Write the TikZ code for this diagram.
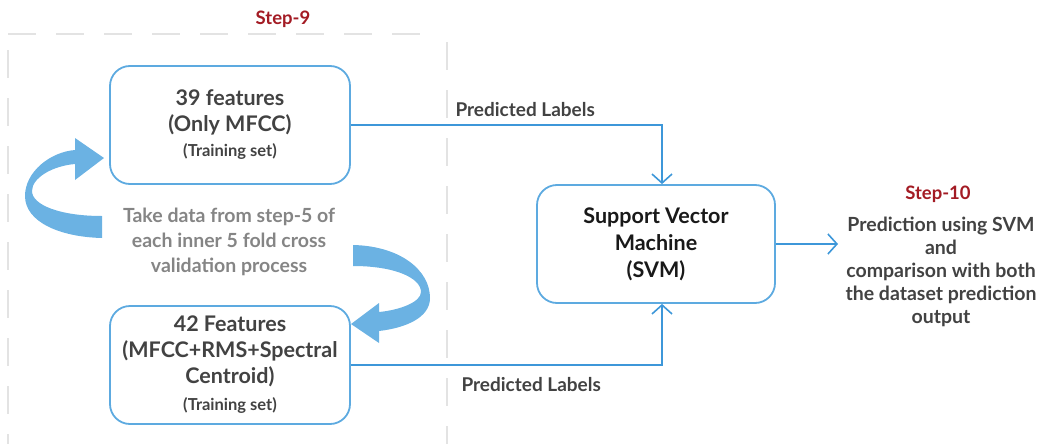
\documentclass[tikz,border=0pt]{standalone}
\usepackage{fontspec}
\setmainfont{Lato}
\usetikzlibrary{arrows.meta,calc}
\definecolor{boxline}{HTML}{5DAAE0}
\definecolor{connline}{HTML}{3D97D9}
\definecolor{swirl}{HTML}{6BB2E3}
\definecolor{steptitle}{HTML}{A31B24}
\definecolor{boxtext}{HTML}{424242}
\definecolor{notetext}{HTML}{858585}
\definecolor{frameline}{HTML}{E3E3E3}
\newcommand{\fsz}[2]{\fontsize{#1}{#2}\selectfont}
\tikzset{
  featbox/.style={draw=boxline, line width=1.8pt, rounded corners=20pt,
    minimum width=240pt, minimum height=118pt, align=center,
    text=boxtext, font=\bfseries\fsz{21.5}{26}, inner sep=0pt},
  svmbox/.style={featbox, minimum width=238pt, text=black!90, font=\bfseries\fsz{21.5}{27}},
  conn/.style={draw=connline, line width=1.6pt,
    -{Straight Barb[length=9pt,width=20pt,line width=1.6pt]}},
  framedash/.style={draw=frameline, line width=1.6pt, dash pattern=on 28pt off 20pt},
  steplabel/.style={text=steptitle, font=\bfseries\fsz{18.5}{22}},
  edgetext/.style={text=boxtext, font=\bfseries\fsz{19}{22}, anchor=west},
  swirlfill/.style={fill=swirl, draw=none}
}
\begin{document}
\begin{tikzpicture}[x=1pt, y=-1pt]
\useasboundingbox (0,0) rectangle (1040,444);

% dashed frame of step 9
\draw[framedash] (8,34) -- (432,34);
\draw[framedash] (8,50) -- (8,444);
\draw[framedash] (447,42) -- (447,444);

\node[steplabel] (step9) at (283,19) {Step-9};

% feature boxes and classifier
\node[featbox] (mfcc) at (230,125)
  {39 features\\(Only MFCC)\\[-1pt]{\fsz{16.5}{26}(Training set)}};
\node[featbox] (full) at (230,365)
  {42 Features\\(MFCC+RMS+Spectral\\Centroid)\\[1pt]{\fsz{16.5}{26}(Training set)}};
\node[svmbox] (svm) at (656,244)
  {Support Vector\\Machine\\(SVM)};

\node[text=notetext, font=\bfseries\fsz{19.5}{25}, align=center] (note) at (229,242)
  {Take data from step-5 of\\each inner 5 fold cross\\validation process};

% predicted labels feeding the classifier
\coordinate (joinx) at (662,0);
\draw[conn] (mfcc.east) -| (svm.north -| joinx);
\draw[conn] (full.east) -| (svm.south -| joinx);
\node[edgetext] (lbltop) at (452,110) {Predicted Labels};
\node[edgetext] (lblbot) at (458,385) {Predicted Labels};

% step 10 output
\coordinate (outend) at (838,244);
\draw[conn] (svm.east) -- (svm.east -| outend);
\node[steplabel] (step10) at (938,194) {Step-10};
\node[text=boxtext, font=\bfseries\fsz{19.5}{23}, align=center] (result) at (941,272)
  {Prediction using SVM\\and\\comparison with both\\the dataset prediction\\output};

% curved ribbon arrow into the upper box
\path[swirlfill] (102,216) -- (102,238)
  .. controls (60,237) and (25,222) .. (25,196)
  .. controls (25,172) and (50,152) .. (75,150)
  -- (75,138) -- (104,158) -- (75,180) -- (75,164)
  .. controls (52,166) and (32,178) .. (32,191)
  .. controls (32,205) and (60,216) .. (102,216) -- cycle;

% curved ribbon arrow into the lower box
\path[swirlfill] (353,245)
  .. controls (400,246) and (430,270) .. (430,298)
  .. controls (430,318) and (405,328) .. (379,331)
  -- (379,343) -- (351,324) -- (379,303) -- (379,312)
  .. controls (400,310) and (421,302) .. (421,292)
  .. controls (421,278) and (395,266) .. (353,266) -- cycle;
\end{tikzpicture}
\end{document}
